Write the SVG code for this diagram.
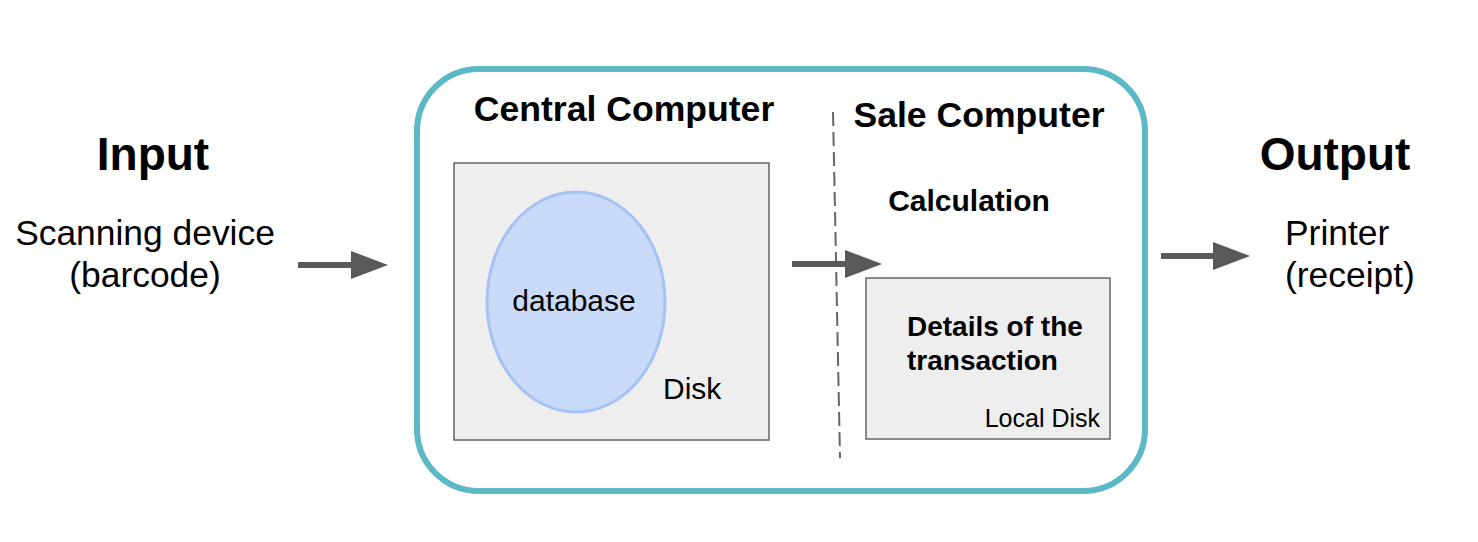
<svg xmlns="http://www.w3.org/2000/svg" width="1478" height="542" viewBox="0 0 1478 542">
<defs>
<style>
text{font-family:"Liberation Sans",Arial,sans-serif;fill:#000}
.b{font-weight:bold}
.box{fill:#eeeeee;stroke:#666666;stroke-width:1.5}
.shaft{stroke:#595959;stroke-width:6;fill:none}
.head{fill:#595959}
</style>
</defs>
<rect width="1478" height="542" fill="#ffffff"/>
<g id="container">
<rect x="417" y="69" width="728" height="422" rx="62" ry="62" fill="none" stroke="#5ab8c7" stroke-width="6"/>
</g>
<g id="input">
<text class="b" x="153" y="170" font-size="46" text-anchor="middle">Input</text>
<text x="145" y="245" font-size="35.4" text-anchor="middle">Scanning device</text>
<text x="145" y="287" font-size="35.4" text-anchor="middle">(barcode)</text>
</g>
<g id="central-computer">
<text class="b" x="624" y="121" font-size="35.6" text-anchor="middle">Central Computer</text>
<rect class="box" x="454" y="163" width="315" height="277"/>
<text x="663" y="399" font-size="30">Disk</text>
</g>
<g id="database">
<ellipse cx="576" cy="302" rx="89" ry="110" fill="#c9daf8" stroke="#a4c2f4" stroke-width="3"/>
<text x="574" y="311" font-size="30" text-anchor="middle">database</text>
</g>
<g id="sale-computer">
<text class="b" x="979" y="127" font-size="35.6" text-anchor="middle">Sale Computer</text>
<text class="b" x="969" y="211" font-size="30" text-anchor="middle">Calculation</text>
</g>
<g id="local-disk">
<rect class="box" x="866" y="278" width="244" height="161"/>
<text class="b" x="907" y="336" font-size="28">Details of the</text>
<text class="b" x="907" y="370" font-size="28">transaction</text>
<text x="1100" y="427" font-size="25" text-anchor="end">Local Disk</text>
</g>
<g id="output">
<text class="b" x="1335" y="170" font-size="46" text-anchor="middle">Output</text>
<text x="1285" y="245" font-size="35.4">Printer</text>
<text x="1285" y="287" font-size="35.4">(receipt)</text>
</g>
<g id="connectors">
<line x1="833" y1="112" x2="840" y2="458" stroke="#666666" stroke-width="2" stroke-dasharray="14,6"/>
<line class="shaft" x1="298" y1="265" x2="353" y2="265"/>
<polygon class="head" points="351,251 388,265 351,279"/>
<line class="shaft" x1="792" y1="264" x2="847" y2="264"/>
<polygon class="head" points="845,250 882,264 845,278"/>
<line class="shaft" x1="1161" y1="256" x2="1215" y2="256"/>
<polygon class="head" points="1213,242 1250,256 1213,270"/>
</g>
</svg>
